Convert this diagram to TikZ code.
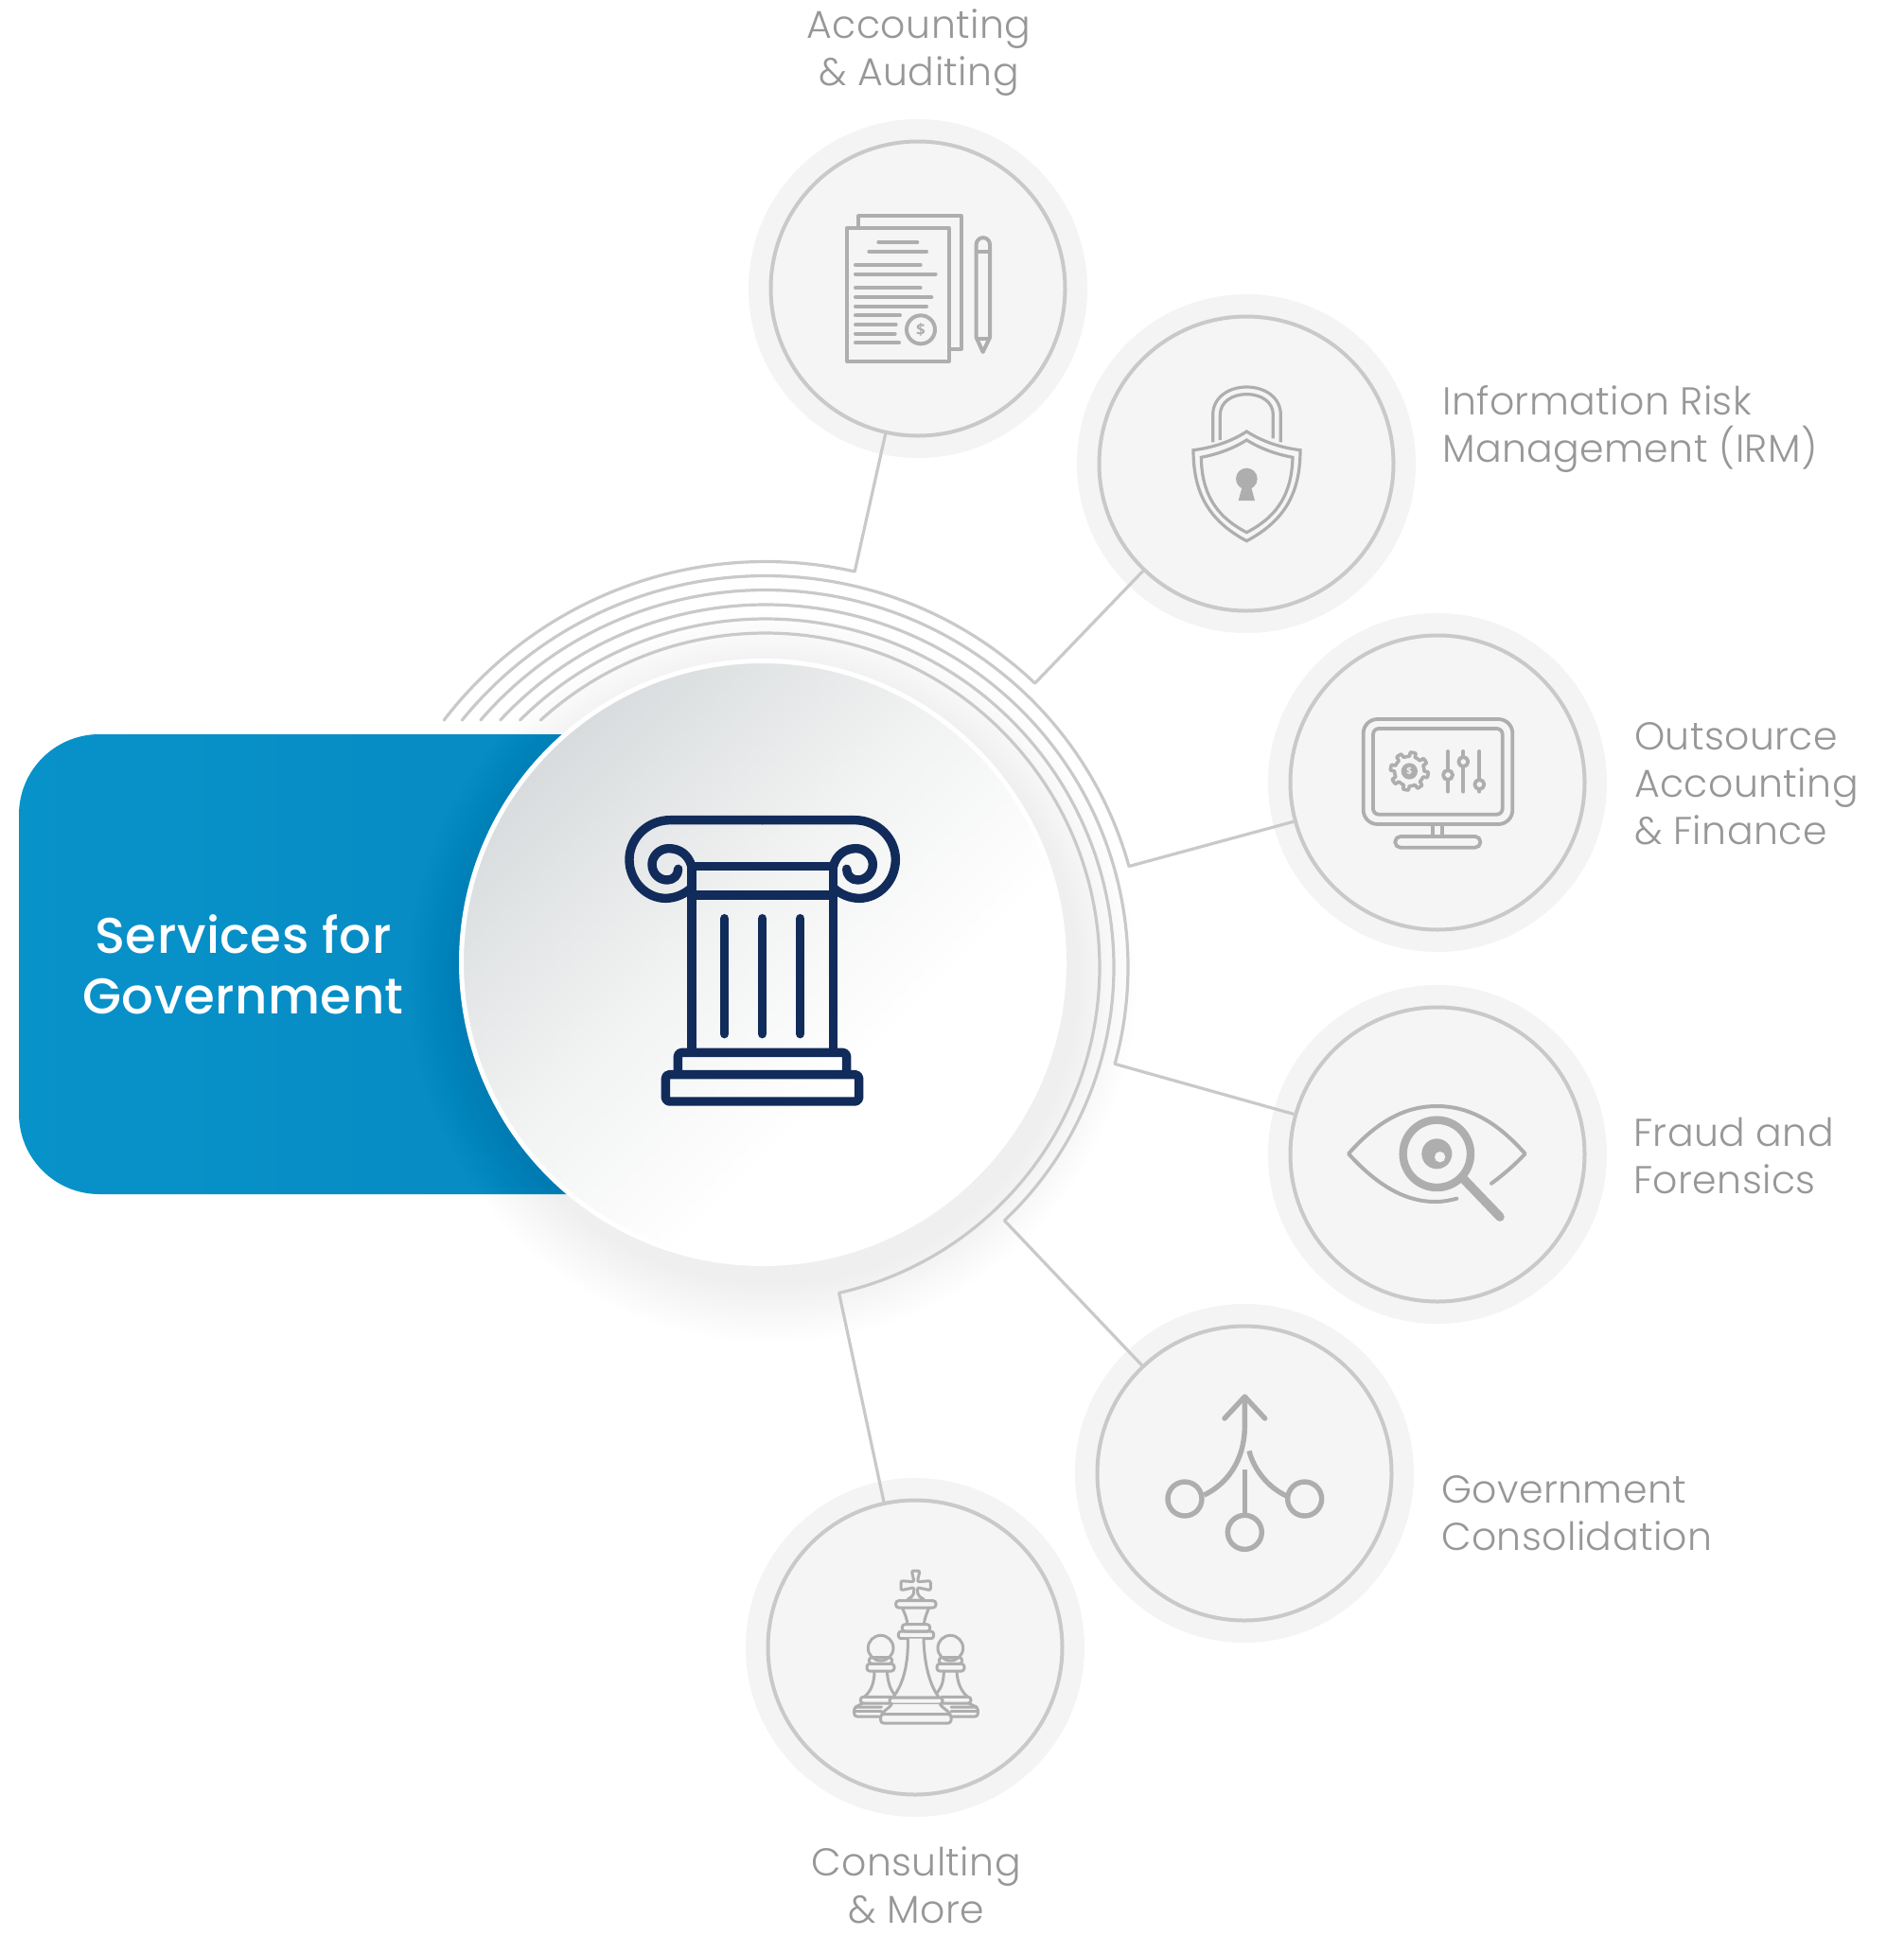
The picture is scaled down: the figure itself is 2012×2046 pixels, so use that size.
\documentclass[tikz,border=0pt]{standalone}
\usepackage{fontspec}
\setmainfont[LetterSpace=1]{Poppins Light}
\newfontfamily\headfont[LetterSpace=1]{Poppins Medium}
\newfontfamily\iconfont{Open Sans}
\usetikzlibrary{calc}
\definecolor{icong}{HTML}{AEAEAE}
\definecolor{bubblebg}{HTML}{F5F5F5}
\definecolor{halobg}{HTML}{F4F4F4}
\definecolor{ringc}{HTML}{C9C9C9}
\definecolor{labelc}{HTML}{979797}
\definecolor{navy}{HTML}{112B5A}
\definecolor{bluea}{HTML}{0892CA}
\definecolor{blueb}{HTML}{0688BF}
\definecolor{graya}{HTML}{D2D6D8}
\definecolor{grayb}{HTML}{F1F2F2}
\pgfdeclareverticalshading{discgrad}{100bp}{color(0bp)=(white); color(38bp)=(white); color(55bp)=(grayb); color(80bp)=(graya); color(100bp)=(graya)}
\tikzset{
  zz/.style 2 args={shift={(#1,-#2)},xscale=1/3,yscale=-1/3},
  halo/.style={circle,fill=halobg,draw=none,minimum size=358pt,inner sep=0pt},
  bubble/.style={circle,fill=bubblebg,draw=ringc,line width=4pt,minimum size=311pt,inner sep=0pt},
  link/.style={draw=ringc,line width=3.2pt,line cap=round},
  ico/.style={draw=icong,line width=#1,line cap=round,line join=round},
  ico/.default=4pt,
  col/.style={draw=navy,line width=9.4pt,line cap=round,line join=round},
  lab/.style={text=labelc,font=\fontsize{41}{50}\selectfont,inner sep=0pt},
  head/.style={text=white,font=\headfont\fontsize{53}{64}\selectfont,inner sep=0pt,align=center},
  dollar/.style={text=icong,inner sep=0pt}
}
\begin{document}
\begin{tikzpicture}[x=1pt,y=1pt,declare function={gearr(\t)=(cos(8*\t)>0)*13+47;}]
\useasboundingbox (0,0) rectangle (2012,-2046);
\fill[white] (0,0) rectangle (2012,-2046);
\coordinate (c) at (809,-1022);
% halos + bubbles
\foreach \nm/\px/\py in {a/970/305,b/1317/490,d/1519/827,f/1519/1220,g/1315/1557,h/967/1741}{
  \node[halo] (halo\nm) at (\px,-\py) {};
}
\foreach \nm/\px/\py in {a/970/305,b/1317/490,d/1519/827,f/1519/1220,g/1315/1557,h/967/1741}{
  \node[bubble] (n\nm) at (\px,-\py) {};
}
% blue panel
\shade[left color=bluea,right color=blueb,rounded corners=85pt] (20,-776) rectangle (800,-1262);
% shadow
\foreach \r in {325,329,...,385}{
  \fill[black,opacity=0.004] (816,-1034) circle[radius=\r];
}
% arcs
\foreach \i/\r/\e/\t in {1/428.5/77.3/a,2/413.5/46.5/b,3/398.5/15.5/d,4/383/-15.5/f,5/368/-46.7/g,6/353/-77.3/h}{
  \pgfmathsetmacro{\s}{180-asin(261/\r)}
  \draw[link] ($(c)+(\s:\r)$) arc[start angle=\s,end angle=\e,radius=\r] coordinate (e\i);
  \draw[link,line cap=butt] (e\i) -- (n\t);
}
% main circle
\shade[shading=discgrad,shading angle=45,draw=white,line width=5pt] (806,-1017) circle[radius=318.5];
% column
\begin{scope}[zz={640}{840}]
  \foreach \s in {1,-1}{
    \begin{scope}[shift={(497,0)},xscale=\s]
      \draw[col] (0,80) -- (-292,80) .. controls (-367,80) and (-422,140) .. (-422,205) .. controls (-422,275) and (-367,328) .. (-307,328) .. controls (-277,328) and (-247,315) .. (-225,295);
      \draw[col] (-225,225) .. controls (-235,190) and (-262,170) .. (-297,170) .. controls (-327,170) and (-350,195) .. (-350,220) .. controls (-350,250) and (-327,270) .. (-302,270) .. controls (-282,270) and (-267,255) .. (-267,235);
    \end{scope}
  }
  \draw[col] (272,227) -- (722,227) (272,318) -- (722,318);
  \draw[col] (273,227) -- (273,810) (721,227) -- (721,810);
  \draw[col] (377,392) -- (377,758) (497,392) -- (497,758) (617,392) -- (617,758);
  \draw[col,rounded corners=4pt] (229,880) -- (229,817) -- (764,817) -- (764,880);
  \draw[col,rounded corners=4pt] (190,887) rectangle (803,972);
\end{scope}
% accounting icon
\begin{scope}[zz={850}{180}]
  \draw[ico] (172,180) -- (172,145) -- (497,145) -- (497,567) -- (460,567);
  \draw[ico] (135,183) rectangle (458,605);
  \foreach \xa/\xb/\y in {235/358/228,205/387/257,162/368/300,162/416/329,162/368/373,162/403/402,162/387/431,162/303/460,162/290/489,162/287/518,162/300/547}{
    \draw[ico] (\xa,\y) -- (\xb,\y);
  }
  \draw[ico] (369,505) circle[radius=45];
  \draw[ico] (545,530) -- (545,235) arc[start angle=180,end angle=360,radius=21.5] -- (588,530) -- (566,576) -- cycle;
  \draw[ico] (545,258) -- (588,258) (548,533) -- (585,533);
  \node[dollar,font=\iconfont\bfseries\fontsize{17}{17}\selectfont] (coin) at (369,505) {\$};
\end{scope}
% lock icon
\begin{scope}[zz={1230}{380}]
  \draw[ico=3.2pt,line cap=butt] (155,262) -- (155,175) .. controls (155,120) and (205,87) .. (262,87) .. controls (320,87) and (370,120) .. (370,175) -- (370,262);
  \draw[ico=3.2pt,line cap=butt] (178,255) -- (178,175) .. controls (178,135) and (215,110) .. (262,110) .. controls (310,110) and (346,135) .. (346,175) -- (346,250);
  \draw[ico=3.2pt,miter limit=10,line join=miter] (262,228) .. controls (210,262) and (150,280) .. (93,287) .. controls (93,420) and (140,510) .. (262,575) .. controls (385,510) and (432,420) .. (432,287) .. controls (375,280) and (315,262) .. (262,228) -- cycle;
  \draw[ico=3.2pt,line join=miter] (262,255) .. controls (220,282) and (170,300) .. (118,310) .. controls (120,420) and (160,495) .. (262,548) .. controls (365,495) and (405,420) .. (408,310) .. controls (355,300) and (305,282) .. (262,255) -- cycle;
  \fill[icong] (262,378) circle[radius=34];
  \fill[icong] (250,395) -- (274,395) -- (288,447) -- (236,447) -- cycle;
\end{scope}
% monitor icon
\begin{scope}[zz={1400}{730}]
  \draw[ico=3.8pt,rounded corners=15pt] (122,90) rectangle (595,423);
  \draw[ico=3.8pt,rounded corners=6pt] (153,120) rectangle (563,392);
  \draw[ico=3.8pt,line cap=butt] (342,423) -- (342,460) (372,423) -- (372,460);
  \draw[ico=3.8pt,rounded corners=5.5pt] (223,462) rectangle (493,497);
  \foreach \x/\k in {390/267,439/225,490/297}{
    \draw[ico=3.8pt] (\x,192) -- (\x,320);
    \draw[ico=3.8pt,fill=bubblebg] (\x,\k) circle[radius=15];
  }
  \begin{scope}[shift={(268,255)}]
  \draw[ico=3.6pt,fill=bubblebg] plot[domain=0:360,samples=129] (\x+11.25:{gearr(\x)}) -- cycle;
  \fill[icong] (0,0) circle[radius=26];
  \end{scope}
  \node[text=bubblebg,font=\iconfont\bfseries\fontsize{10}{10}\selectfont,inner sep=0pt] (gearcoin) at (268,256) {\$};
\end{scope}
% eye icon
\begin{scope}[zz={1400}{1140}]
  \draw[ico] (528,332) .. controls (565,305) and (600,275) .. (635,238) .. controls (540,130) and (450,87) .. (355,87) .. controls (260,87) and (170,130) .. (75,238) .. controls (150,320) and (240,390) .. (350,390) .. controls (375,390) and (395,386) .. (418,380);
  \draw[ico=8.4pt] (355,238) circle[radius=107];
  \fill[icong] (355,238) circle[radius=48];
  \fill[bubblebg] (365,248) circle[radius=17];
  \draw[ico=9.5pt] (440,318) -- (555,438);
\end{scope}
% merge icon
\begin{scope}[zz={1210}{1450}]
  \draw[ico=5.4pt] (252,147) -- (316,78) -- (380,147);
  \draw[ico=5.4pt,line cap=butt] (316,78) -- (316,170) .. controls (316,280) and (260,355) .. (187,390);
  \draw[ico=5.4pt,line cap=butt] (330,250) .. controls (345,310) and (390,365) .. (447,392);
  \draw[ico=5.4pt,line cap=butt] (316,310) -- (316,450);
  \draw[ico=5.4pt] (126,402) circle[radius=54] (506,402) circle[radius=54] (316,508) circle[radius=54];
\end{scope}
% chess icon
\begin{scope}[zz={880}{1640}]
  % left pawn
  \draw[ico=3pt] (152,305) circle[radius=40];
  \draw[ico=3pt,rounded corners=3pt] (115,335) rectangle (188,355);
  \draw[ico=3pt,rounded corners=3pt] (108,355) rectangle (195,378);
  \draw[ico=3pt] (132,378) .. controls (132,420) and (118,445) .. (100,460);
  \draw[ico=3pt] (172,378) .. controls (175,420) and (185,440) .. (198,455);
  \draw[ico=3pt,rounded corners=3pt] (185,460) -- (88,460) -- (88,480) -- (185,480);
  \draw[ico=3pt] (95,480) -- (72,492);
  \draw[ico=3pt,rounded corners=3pt] (155,492) -- (68,492) -- (68,522) -- (155,522);
  \draw[ico=3pt] (68,505) -- (155,505);
  % right pawn
  \draw[ico=3pt] (373,305) circle[radius=40];
  \draw[ico=3pt,rounded corners=3pt] (337,335) rectangle (410,355);
  \draw[ico=3pt,rounded corners=3pt] (330,355) rectangle (417,378);
  \draw[ico=3pt] (352,378) .. controls (352,410) and (345,430) .. (330,448);
  \draw[ico=3pt] (393,378) .. controls (395,420) and (410,445) .. (428,460);
  \draw[ico=3pt,rounded corners=3pt] (345,460) -- (438,460) -- (438,480) -- (345,480);
  \draw[ico=3pt] (430,480) -- (456,492);
  \draw[ico=3pt,rounded corners=3pt] (375,492) -- (460,492) -- (460,522) -- (375,522);
  \draw[ico=3pt] (375,505) -- (460,505);
  % king
  \draw[ico=3pt,fill=bubblebg,rounded corners=2pt] (250,60) -- (276,60) -- (268,95) -- (310,92) -- (310,122) -- (268,113) -- (270,138) -- (292,153) -- (234,153) -- (256,138) -- (258,113) -- (216,122) -- (216,92) -- (258,95) -- cycle;
  \draw[ico=3pt,rounded corners=3pt,fill=bubblebg] (200,155) rectangle (327,177);
  \draw[ico=3pt] (220,177) .. controls (228,195) and (235,210) .. (237,230);
  \draw[ico=3pt] (305,177) .. controls (298,195) and (291,210) .. (289,230);
  \draw[ico=3pt,rounded corners=3pt] (220,230) rectangle (308,252);
  \draw[ico=3pt,rounded corners=3pt] (208,252) rectangle (320,275);
  \draw[ico=3pt,fill=bubblebg] (238,275) .. controls (240,350) and (225,420) .. (190,462) -- (337,462) .. controls (305,420) and (290,350) .. (288,275);
  \draw[ico=3pt,rounded corners=3pt,fill=bubblebg] (180,462) rectangle (348,483);
  \fill[bubblebg] (187,483) -- (155,515) -- (373,515) -- (340,483) -- cycle;
  \draw[ico=3pt] (187,483) .. controls (180,495) and (165,500) .. (155,515);
  \draw[ico=3pt] (340,483) .. controls (347,495) and (362,500) .. (373,515);
  \draw[ico=3pt,rounded corners=3pt,fill=bubblebg] (152,515) rectangle (375,543);
\end{scope}
% labels
\node[lab,align=center] (la) at (971,-56) {Accounting\\\& Auditing};
\node[lab,anchor=west,align=left] (lb) at (1524,-453) {Information Risk\\Management (IRM)};
\node[lab,anchor=west,align=left] (ld) at (1727,-828) {Outsource\\Accounting\\\& Finance};
\node[lab,anchor=west,align=left] (lf) at (1726,-1221) {Fraud and\\Forensics};
\node[lab,anchor=west,align=left] (lg) at (1523,-1599) {Government\\Consolidation};
\node[lab,align=center] (lh) at (968,-1992) {Consulting\\\& More};
\node[head] (title) at (257,-1019) {Services for\\Government};
\end{tikzpicture}
\end{document}
